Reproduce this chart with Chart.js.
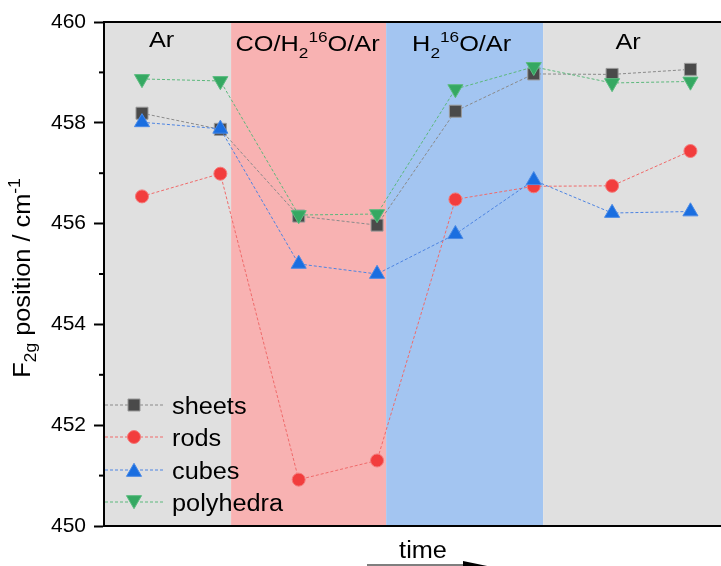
<!DOCTYPE html>
<html>
<head>
<meta charset="utf-8">
<script src="https://cdn.jsdelivr.net/npm/chart.js@4/dist/chart.umd.min.js"></script>
<style>
body { margin: 0; background: #fff; }
#wrap { width: 721px; height: 566px; }
</style>
</head>
<body>
<div id="wrap"><canvas id="chart" width="721" height="566"></canvas></div>
<script>
// measurement steps along the time axis
const steps = [1, 2, 3, 4, 5, 6, 7, 8];
const sheets = [458.19, 457.87, 456.15, 455.97, 458.23, 458.97, 458.96, 459.06];
const rods = [456.54, 456.99, 450.92, 451.30, 456.48, 456.74, 456.75, 457.44];
const cubes = [458.01, 457.88, 455.20, 455.00, 455.79, 456.86, 456.21, 456.24];
const polyhedra = [458.87, 458.83, 456.17, 456.19, 458.67, 459.11, 458.79, 458.82];
const yTicks = [450, 452, 454, 456, 458, 460];
const yMinorTicks = [451, 453, 455, 457, 459];

// gas atmosphere phases (text split into normal / sub / sup runs)
const phaseLabels = [
    [['Ar']],
    [['CO/H'], ['2', 'sub'], ['16', 'sup'], ['O/Ar']],
    [['H'], ['2', 'sub'], ['16', 'sup'], ['O/Ar']],
    [['Ar']]
];
const phaseEdges = [2.137, 4.116, 6.12];
const phaseColors = ['#e0e0e0', '#f8b2b2', '#a3c5f1', '#e0e0e0'];
const yTitle = [['F'], ['2g', 'sub'], [' position / cm'], ['-1', 'sup']];
const xTitle = 'time';

const FONT = '"Liberation Sans", Arial, sans-serif';
const STRETCH = 1.1;   // text in the original is a bit wider than Arial

function toPoints(values) {
    return values.map((v, i) => ({ x: steps[i], y: v }));
}

function runFont(size, kind) {
    return (kind ? Math.round(size * 0.68) : size) + 'px ' + FONT;
}

// draws runs of text centred on cx, stretched horizontally
function drawRich(ctx, parts, cx, baseline, size, stretch) {
    let width = 0;
    parts.forEach(p => {
        ctx.font = runFont(size, p[1]);
        width += ctx.measureText(p[0]).width;
    });
    ctx.save();
    ctx.translate(cx, baseline);
    ctx.scale(stretch, 1);
    let x = -width / 2;
    ctx.textAlign = 'left';
    ctx.textBaseline = 'alphabetic';
    parts.forEach(p => {
        ctx.font = runFont(size, p[1]);
        let dy = 0;
        if (p[1] === 'sub') dy = size * 0.3;
        if (p[1] === 'sup') dy = -size * 0.42;
        ctx.fillText(p[0], x, dy);
        x += ctx.measureText(p[0]).width;
    });
    ctx.restore();
}

const decorations = {
    id: 'decorations',
    beforeDraw(chart) {
        const ctx = chart.ctx;
        const area = chart.chartArea;
        const xs = chart.scales.x;
        const edges = [xs.min].concat(phaseEdges, [xs.max]);
        ctx.save();
        for (let i = 0; i < phaseColors.length; i++) {
            const x0 = xs.getPixelForValue(edges[i]);
            const x1 = xs.getPixelForValue(edges[i + 1]);
            ctx.fillStyle = phaseColors[i];
            ctx.fillRect(x0, area.top, x1 - x0, area.bottom - area.top);
        }
        ctx.restore();
    },
    afterDraw(chart) {
        const ctx = chart.ctx;
        const area = chart.chartArea;
        const xs = chart.scales.x;
        const ys = chart.scales.y;
        const edges = [xs.min].concat(phaseEdges, [xs.max]);
        ctx.save();
        ctx.fillStyle = '#000';

        // top frame line
        ctx.strokeStyle = '#000';
        ctx.lineWidth = 2;
        ctx.beginPath();
        ctx.moveTo(area.left, area.top);
        ctx.lineTo(area.right, area.top);
        ctx.stroke();

        // minor ticks
        yMinorTicks.forEach(v => {
            const y = ys.getPixelForValue(v);
            ctx.beginPath();
            ctx.moveTo(area.left - 5, y);
            ctx.lineTo(area.left, y);
            ctx.stroke();
        });

        // phase labels
        const nudgeX = [-6, -1, -3, -4];
        const baseY = [47, 51, 51, 49];
        phaseLabels.forEach((parts, i) => {
            const x0 = xs.getPixelForValue(edges[i]);
            const x1 = xs.getPixelForValue(edges[i + 1]);
            drawRich(ctx, parts, (x0 + x1) / 2 + nudgeX[i], area.top + baseY[i] - 22, 22, 1.15);
        });

        // y axis title
        ctx.save();
        ctx.translate(29.5, 278);
        ctx.rotate(-Math.PI / 2);
        drawRich(ctx, yTitle, 0, 0, 23, STRETCH);
        ctx.restore();

        // x axis title and arrow
        drawRich(ctx, [[xTitle]], 423, 558, 23, STRETCH);
        ctx.strokeStyle = '#555';
        ctx.lineWidth = 1.5;
        ctx.beginPath();
        ctx.moveTo(367, 565);
        ctx.lineTo(466, 565);
        ctx.stroke();
        ctx.beginPath();
        ctx.moveTo(463, 561);
        ctx.lineTo(492, 567);
        ctx.lineTo(463, 573);
        ctx.closePath();
        ctx.fill();

        // legend
        const rows = [405, 437, 470, 502];
        chart.data.datasets.forEach((ds, i) => {
            const y = rows[i];
            ctx.strokeStyle = ds.borderColor;
            ctx.lineWidth = 1;
            ctx.setLineDash([3, 2]);
            ctx.beginPath();
            ctx.moveTo(area.left + 1, y);
            ctx.lineTo(area.left + 60, y);
            ctx.stroke();
            ctx.setLineDash([]);
            ctx.fillStyle = ds.pointBackgroundColor;
            ctx.strokeStyle = ds.pointBorderColor;
            ctx.lineWidth = 1;
            Chart.helpers.drawPoint(ctx, {
                pointStyle: ds.pointStyle,
                radius: ds.pointRadius,
                rotation: ds.pointRotation || 0,
                borderWidth: 1
            }, area.left + 30, y + (ds.pointStyle === 'triangle' ? (ds.pointRotation ? -2 : 2) : 0));
            ctx.fillStyle = '#000';
            ctx.save();
            ctx.translate(area.left + 68, y + 9);
            ctx.scale(STRETCH, 1);
            ctx.font = '23px ' + FONT;
            ctx.textAlign = 'left';
            ctx.textBaseline = 'alphabetic';
            ctx.fillText(ds.label, 0, 0);
            ctx.restore();
        });
        ctx.restore();
    }
};

function series(label, values, line, fill, edge, style, radius, rotation, order) {
    return {
        label: label,
        data: toPoints(values),
        borderColor: line,
        borderWidth: 1,
        borderDash: [3, 2],
        pointStyle: style,
        pointRadius: radius,
        pointHoverRadius: radius,
        pointRotation: rotation,
        pointBackgroundColor: fill,
        pointBorderColor: edge,
        pointBorderWidth: 1,
        tension: 0,
        fill: false,
        order: order
    };
}

new Chart(document.getElementById('chart'), {
    type: 'line',
    data: {
        datasets: [
            series('sheets', sheets, '#8a8a8a', '#4a4a4a', '#9a9a9a', 'rect', 8.5, 0, 4),
            series('rods', rods, '#f06a6a', '#f23d3d', '#f47a7a', 'circle', 6.5, 0, 3),
            series('cubes', cubes, '#4d84e2', '#1a6ee0', '#4a8ae6', 'triangle', 8.7, 0, 2),
            series('polyhedra', polyhedra, '#5cb87c', '#35a862', '#5cbc80', 'triangle', 8.7, 180, 1)
        ]
    },
    options: {
        responsive: false,
        animation: false,
        layout: { autoPadding: false, padding: { top: 22, right: 0, left: 0, bottom: 0 } },
        plugins: {
            legend: { display: false },
            tooltip: { enabled: false }
        },
        scales: {
            x: {
                type: 'linear',
                min: 0.515,
                max: 8.39,
                ticks: { display: false },
                grid: { display: false },
                border: { display: true, color: '#000', width: 2 },
                afterFit(scale) {
                    scale.height = 40;
                }
            },
            y: {
                min: 450,
                max: 460,
                afterBuildTicks(scale) {
                    scale.ticks = yTicks.map(v => ({ value: v }));
                },
                ticks: {
                    color: '#000',
                    padding: 8,
                    font: { family: FONT, size: 21 }
                },
                grid: {
                    drawOnChartArea: false,
                    tickLength: 10,
                    tickWidth: 2,
                    tickColor: '#000'
                },
                border: { display: true, color: '#000', width: 2 },
                afterFit(scale) { scale.width = 104; }
            }
        }
    },
    plugins: [decorations]
});
</script>
</body>
</html>
